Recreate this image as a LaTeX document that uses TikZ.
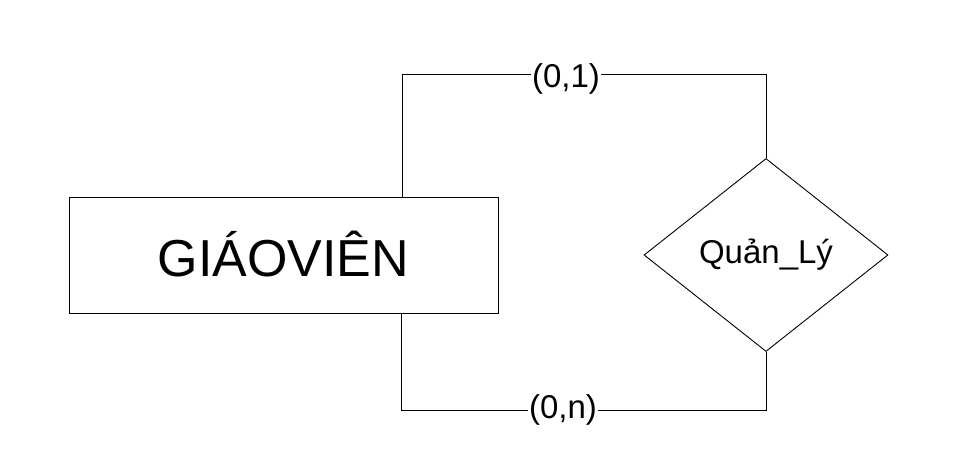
\documentclass[tikz,border=0pt]{standalone}
\usepackage{fontspec}
\setmainfont{Liberation Sans}
\usetikzlibrary{shapes.geometric}
\begin{document}
\begin{tikzpicture}[x=1pt,y=1pt,
  every path/.style={line width=0.9pt},
  entitybox/.style={draw, rectangle, minimum width=429pt, minimum height=116pt, inner sep=0pt, font=\fontsize{52}{60}\selectfont},
  relbox/.style={draw, diamond, minimum width=244pt, minimum height=193pt, inner sep=0pt, font=\fontsize{33}{40}\selectfont},
  cardlabel/.style={fill=white, inner sep=1pt, font=\fontsize{33}{40}\selectfont}]
\useasboundingbox (0,0) rectangle (953,460);
\node[entitybox] (gv) at (283.5,205) {\raisebox{3pt}{GIÁOVIÊN}};
\node[relbox] (ql) at (766,205) {Quản\_Lý};
\coordinate (topx) at (402,0);
\coordinate (botx) at (401,0);
\coordinate (topy) at (0,386);
\coordinate (boty) at (0,50);
\draw (gv.north -| topx) -- (topy -| topx) -- (topy -| ql.north) -- (ql.north);
\draw (gv.south -| botx) -- (boty -| botx) -- (boty -| ql.south) -- (ql.south);
\node[cardlabel] (c1) at (566,381) {(0,1)};
\node[cardlabel] (c2) at (563,50) {(0,n)};
\end{tikzpicture}
\end{document}
